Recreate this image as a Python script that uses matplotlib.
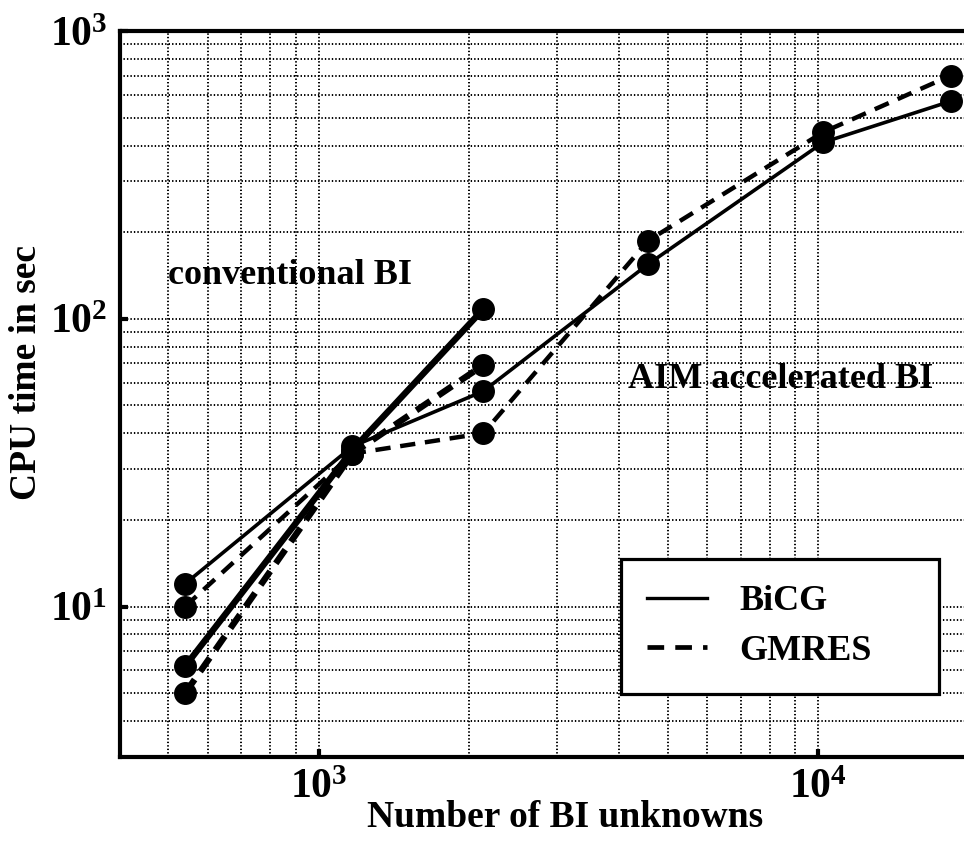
import matplotlib
matplotlib.use('Agg')
import matplotlib.pyplot as plt
from matplotlib.lines import Line2D
from matplotlib.ticker import NullFormatter

# valeurs
n_conv = [540, 1168, 2135]
n_aim = [540, 1168, 2135, 4571, 10232, 18420]
conv_bicg = [6.2, 35, 108]
conv_gmres = [5.0, 34, 69]
aim_bicg = [12, 36, 56, 155, 410, 570]
aim_gmres = [10, 34, 40, 187, 445, 700]

x_ticks = [1e3, 1e4]
x_ticklabels = [r'$10^{3}$', r'$10^{4}$']
y_ticks = [1e1, 1e2, 1e3]
y_ticklabels = [r'$10^{1}$', r'$10^{2}$', r'$10^{3}$']
legend_labels = ['BiCG', 'GMRES']

plt.rcParams['font.family'] = ['Liberation Serif', 'DejaVu Serif']
plt.rcParams['font.weight'] = 'bold'
plt.rcParams['mathtext.fontset'] = 'custom'
plt.rcParams['mathtext.rm'] = 'Liberation Serif:bold'
plt.rcParams['mathtext.bf'] = 'Liberation Serif:bold'
plt.rcParams['mathtext.it'] = 'Liberation Serif:bold'
plt.rcParams['lines.scale_dashes'] = False

W, H = 964, 856
fig = plt.figure(figsize=(W / 100, H / 100), dpi=100)
ax = fig.add_axes([120 / W, 99 / H, (968.5 - 120) / W, (757 - 31) / H])

ax.set_xscale('log')
ax.set_yscale('log')
ax.set_xlim(400, 20000)
ax.set_ylim(3, 1000)

mk = dict(marker='o', markersize=15.5, color='black')
ax.plot(n_conv, conv_bicg, lw=4.6, **mk, zorder=3)
ax.plot(n_conv, conv_gmres, lw=4.6, dashes=(12, 7), **mk, zorder=3)
ax.plot(n_aim, aim_bicg, lw=2.6, **mk, zorder=3)
ax.plot(n_aim, aim_gmres, lw=3.2, dashes=(11, 7), **mk, zorder=3)

ax.grid(True, which='both', color='black', linestyle=(0, (1, 1.5)), linewidth=1.4)
ax.set_axisbelow(True)

ax.set_xticks(x_ticks)
ax.set_xticklabels(x_ticklabels)
ax.set_yticks(y_ticks)
ax.set_yticklabels(y_ticklabels)
ax.xaxis.set_minor_formatter(NullFormatter())
ax.yaxis.set_minor_formatter(NullFormatter())
ax.tick_params(which='major', direction='in', length=6, width=3, labelsize=30, pad=9)
ax.tick_params(which='minor', length=0)
for s in ax.spines.values():
    s.set_linewidth(3)

ax.text(500, 132, 'conventional BI', fontsize=26, fontweight='bold', va='baseline')
ax.text(4169, 57.5, 'AIM accelerated BI', fontsize=26, fontweight='bold', va='baseline')

fig.text(27 / W, (H - 372) / H, 'CPU time in sec', rotation=90, fontsize=27,
         fontweight='bold', ha='center', va='center')
fig.text(565 / W, (H - 827) / H, 'Number of BI unknowns', fontsize=27,
         fontweight='bold', ha='center', va='baseline')

handles = [Line2D([], [], color='black', lw=2.4),
           Line2D([], [], color='black', lw=3.4, dashes=(12, 8))]
ax_w = 968.5 - 120
ax_h = 757 - 31
leg = ax.legend(handles, legend_labels, loc='lower left',
                bbox_to_anchor=((621 - 120) / ax_w, (757 - 694) / ax_h,
                                (939 - 621) / ax_w, (694 - 558) / ax_h),
                mode='expand', borderaxespad=0, prop={'weight': 'bold', 'size': 26},
                handlelength=1.65, handletextpad=0.9, labelspacing=0.45, borderpad=0.72,
                fancybox=False, framealpha=1, edgecolor='black')
leg.get_frame().set_linewidth(2.3)
leg.set_zorder(5)

fig.savefig('out.png', dpi=100)
